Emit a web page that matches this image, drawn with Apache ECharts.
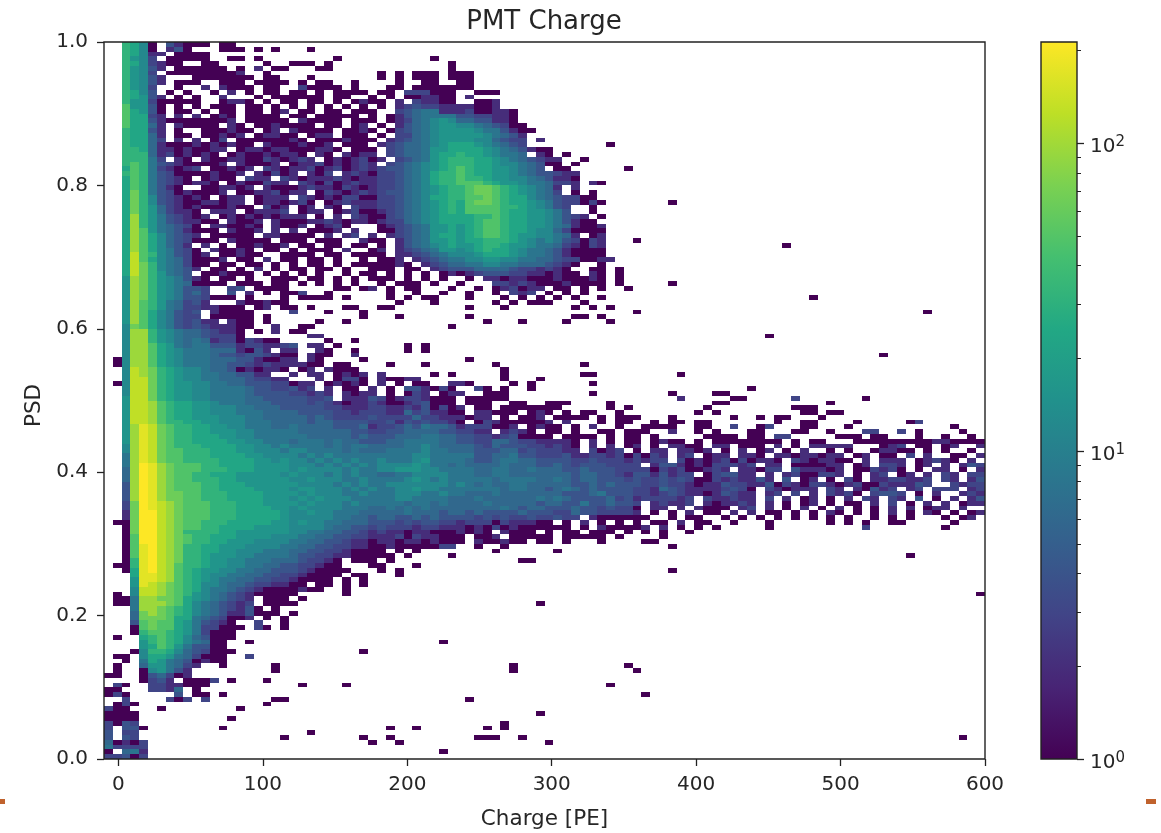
<!DOCTYPE html>
<html>
<head>
<meta charset="utf-8">
<title>PMT Charge</title>
<script src="https://cdn.jsdelivr.net/npm/echarts@6/dist/echarts.min.js"></script>
<style>
  html, body { margin: 0; padding: 0; background: #fff; }
  #chart { width: 1161px; height: 833px; }
</style>
</head>
<body>
<div id="chart"></div>
<script>
const xTicks = [0, 100, 200, 300, 400, 500, 600]
const yTicks = [0, 0.2, 0.4, 0.6, 0.8, 1.0]
const barMajorTicks = [1, 10, 100]
const barMinorTicks = [2, 3, 4, 5, 6, 7, 8, 9, 20, 30, 40, 50, 60, 70, 80, 90, 200]
const barMax = 213

// histogram bins
const xRange = [-10, 600]
const yRange = [0, 1]
const xBins = 100
const yBins = 150

// counts per hex digit in the rows below, '.' is an empty bin
const levelCounts = [1, 2, 3, 4, 6, 8, 12, 16, 24, 32, 48, 64, 96, 128, 170, 213]

const viridis = ['#440154', '#482475', '#414487', '#355f8d', '#2a788e', '#21918c', '#22a884', '#44bf70', '#7ad151', '#bddf26', '#fde725']

// one string per row, top row first, ten bins in each group
const rowLevels = [
  '..9860.310 00.00',
  '..9860.130 ...000.0.0 ...0',
  '..98611.00 00..',
  '..9762.000 00..00.0.. ......0... .......0',
  '..9862100. .00.....0. .000.0.... .........0',
  '..97631.00 0000.0.1.0 0...00.... .........0',
  '..9762.000 000001..0. .......... .0.0.000.0 00',
  '..97631... 0000000.00 ...0...... .0.0.000.0 00',
  '..97631.00 0..000.000 0.0.00..0. ...0..00.. 00',
  '..9762..0. .1.1000.00 ..20000.0. ..00.00000 00',
  '..9863.0.0 ..0.1.0.00 .00.0.0000 .00.222000 ..000',
  '..98731.0. 0..1...0.0 00000.00.. 0.0.001100 .1',
  '..97720000 0..0110.0. 00.00.0.01 00.1.21100 ..001',
  '..a7730.0. 0.000.00.0 .0.0.0.0.0 .0.1232211 11001',
  '..a8730.00 .0.00.00.0 1.00.00.00 0..2345511 1200110',
  '..a8821.1. 1.010.0000 .00.00000. 0.01345555 3322110',
  '..a8831000 00001.0000 0.10000.00 0.01245676 4433110',
  '..a8841.10 000.10.001 0000.00.01 .0.1345677 66543200',
  '..98831.0. .000100.01 .10000.001 0.02345677 776553100',
  '..98841.00 .00101.011 00.011.000 .0.2245677 77765431',
  '..98842.1. 1.02.00000 010.000100 0.12345677 77664322.1',
  '..98841000 1010100.10 001001.000 .123445678 88765432..',
  '..99841101 0011.01101 1000110.00 0.23445778 8887654310 0',
  '..99941201 010.010010 110.10.101 1.23445788 98876554.1 0.0',
  '..99952.10 .100110021 0121.01012 01.2345789 9988765432 11..0',
  '..9a953210 0001.10001 .011201012 1.23456789 9988766543 00.0',
  '..8a952101 2.00101.21 0112012012 1233456789 a988776543 .00',
  '..9a953200 001001.102 01.102.121 0223456899 a988776543 3211',
  '..8a953210 .0100.211. 2101112101 1223456899 a998776654 3110',
  '..8a953210 110.010021 1.21020121 1223456899 aaa9877655 4221.10',
  '..8a95310. .001101.10 0012110210 1223456789 9abba98765 41.1',
  '..8b953201 0001.00112 011.021012 1233456789 9abba98765 42.0.0',
  '..8b963210 10.011.011 1.21010220 0223456889 9aaba98865 432200',
  '..8b963210 011011.011 0120.01211 1223456789 8abba98876 5322020',
  '..8b974210 1000100.20 1.01.10.21 1223456789 8aaaa99876 532..0',
  '..8b974211 0.111.0111 2.011.0120 0123456789 8aaaa98877 653..0',
  '..8c975321 01.0101010 111.0.1.21 0023456788 8899a98877 65321.0',
  '..8c975321 100.1001.1 0001121011 0122456788 889aa98877 653100',
  '..8c975432 0.110010.1 001.0120.. .012345778 789aa98877 6541001',
  '..8ca75431 000.1001.1 .1.0001.1. .002345778 789aa98876 6420000',
  '..8ca86432 1.00000.11 0000.1.12. 1.12345788 789aa98776 6541.01',
  '..8ca86432 000.10000. 000.000..1 00.1345778 7889998765 6532021',
  '..8ca86431 .1.0.00100 1.00.00.00 .0.1345678 7789987765 5421021',
  '..8ca86532 0.10010.00 .0.000.1.. 01.1234577 6789887655 4310000',
  '..8da96532 01.00100.. 0000.00.00 00.1123456 6678887655 4310000',
  '..8da86542 0001.00.1. 00.00.0..0 .001.12345 5667766554 43220011',
  '..8db96542 00.00.00.0 .0.00.0.00 00010.1234 4556655444 3210..0',
  '..8db96543 1.00.0.1.0 .00.00.0.. 000.00.123 3344443221 210..00.0',
  '..8db97543 .001000.0. 0.0.0..0.0 0.0.0.0.01 0123332211 0100.10.0',
  '..7cb97653 10.00.0..0 00.00.0.0. 000.0.0.0. .0.1101100 0100010.0',
  '..7cb97654 0000.000.0 0.0.0.0.0. .0.000.0.. 0...221210 0010000.0',
  '..7cb97653 32..23.000 0.....00.0 1.0.00...0 ..0.012011 .00.0.0..0',
  '..7cb97653 42..3.1.0. 002..0.... ..0..0..0. .0..0.212. 0.0.0',
  '..7cb97653 32000.0... 0.0000.0.. ..0.0.00.. .0...0.0.0 .0.0..0',
  '..7ca97542 31...10010 0......... ...0...0.. ....0.0.00 0...0',
  '..7ca97542 211000.01. 00.0...00. .00....... .0...0.... ...0.0.0',
  '..7ca86532 3.10000... .2...0...0',
  '..7ca86532 2.00000.0. .........0 ...0...... .0........ ...00.0',
  '..7ca86532 311.100.0. ....0..0.. .......... ...0...0.. ..0....0',
  '..6ba86532 3211100..1 ..00...... .........0',
  '..6cc97654 432110.0.1 .00.......',
  '..6cc97654 432220.... ...11.....',
  '..6cc97654 5412202100 .....0..0.',
  '..6cca8754 5533312211 23.11.0... ....0.0...',
  '..6cca8765 554441031. 11..10..0. ....0.0...',
  '..6cca8765 5543323321 00.100..1.',
  '.06cca8765 5544433100 11.10....0 .......... .0',
  '.06cca8765 5544332121 11100.00.. ..0...0... ....0..... ....0',
  '..6dcb9876 6544301011 0.01.1000. .......... .....0',
  '..6dcb9876 655443311. .1.11.0101 .1.....0.0 .....0.... ....00.... .....0',
  '..6ddb9876 6554443221 1...1.0220 .10011.... .....0...0',
  '.06ddb9877 6655443332 2011.01010 .1.0.00..1 10....0.0. .....0',
  '..6ddb9877 6655554332 2312.1.00. 1.0.331020 ..20.0..0. .......... .......... ...0',
  '..6ddb9877 6655554333 322121.101 1.0.021.01 1..000.... .....0.... ....0....0 0',
  '..7ddb9877 6655554433 333223.111 3201221000 .00000.... .......... .....1.... .00.....2. ......0',
  '..7ddca988 7765554443 3332321011 2100123000 .000..00.. 000....0.. .........0 0......... ..0',
  '..7ddca988 7766655444 3333322111 2211213020 1.00.00000 00.....0.0 ........0. ........00 0',
  '..7ddca988 7766655544 4433332212 2211423110 0.11000.01 0.0.00..0. .......0.0 .........0 0.00',
  '..7ddca988 7776665544 4443432222 3222242211 1011.0.001 .0000.0.00 0...0..... .0..0.00.. .0',
  '..7ddca998 8776665554 4443443333 2231323221 0.02100000 1.1...0.00 ..0.00.00. ......0..0 0....0.... .02',
  '..7cedba99 8877665554 4544443334 1223435443 1222001.01 00.0.1..0. .0000..00. .2..02...0 0...0..... ......0',
  '..7cedba99 8877766555 5544444433 2233444433 2211.1210. 00.0..00.0 00..1..0.0 ...00...00 ..0...22.. 2.0....0..',
  '..7cedba99 8887766555 5554444434 3334445544 3322123000 0.0000.0.0 0.0.....00 00.00.22.. ...000.00. ..0..0..0.',
  '..7cedba99 8888776655 5455545443 3344555544 3322443221 1110.1.0.0 0.0100.0.0 0000000.0. 00...00000 0000110000',
  '..6cedba99 9888877665 6555545455 4444556544 4432433322 1210.1.1.0 1.0.1100.1 1.000.1.0. 11111...01 2.00.01..1',
  '..6cedbaa9 9988877666 5665555454 4455556554 4433344232 2211.2012. 0.11.1101. 0.1.01.0.1 ..0.0..011 00.0.0..0.',
  '..5cedbaa9 9988887766 6656565555 5555566555 5533445332 2231122120 2021.12.01 1.110.1101 1011.01.00 .2.1..00.1',
  '..5cedbaa9 9998888776 7665656565 5655567555 5433455443 3332232221 2122.20101 2020110.21 01100.1.11 1.01210.1.',
  '..5cfecbaa a998888777 7666565656 5666676554 5444454443 3432333222 2.13310102 2212.11.00 0011.01.22 1.01.1.132',
  '..4cfecbaa a999888777 7676666565 5667776655 5544554454 4433433322 2202120012 1.11022.31 1101.00212 0.0.11.0.1',
  '..4cfecbaa 9988877777 6766656565 5445566665 5544554444 4443443321 3313122.02 3311.1.120 0221.0.12. 01.1.21.22',
  '..4cfecbaa 9998877777 7667666556 5555676565 5555455554 4543443332 3223232002 121131.3.0 1.0.20.112 2112.21.13',
  '..3cfecbaa a998887777 7766665656 5566666665 6545445544 4443343433 3223221011 3221130210 2210120021 1132..2122',
  '..3cfecbaa a998888777 7677666565 6556676655 5555545544 3454343333 2214321111 2320.21011 1.21.10312 .12.222.12',
  '..3cfecbba a999888877 7767666556 5556665565 5444544444 4433345333 2212321101 3211.12.2. 1.2120.233 2.0.1..121',
  '..3cfecbba a999888877 7676766655 5556655554 4454444445 4543333423 1222212.21 1211.2.1.0 1.0.1.21.2 1.3.0.1.13',
  '..2bfedcba aa99988877 7767666565 5555455454 4445444443 4433533433 2.12112.10 1121.1.0.0 1.0.00.1.2 .0.1.1.011',
  '..2bfedcba aa99988887 7676666555 4454545444 4444454344 3334332322 0.11.1.100 0.12.1.0.1 .0.1.0.0.1 .1.011.1..',
  '..1bffdcba aa99988888 7667665554 4444544434 4343333433 3224332222 1.0.0.1.00 .1.1.00.0. 0.10.0.0.1 .0.10.0.01',
  '..1bffdcba aa99988888 7666665544 3443343433 3323232232 2322.10000 00..0.00.. 0.0.0.0.0. 0.0.0..0.0 .0...0.01',
  '.00bffdcba a999888887 7676655444 3332323322 1222021110 0.0.1.0.0. 0.00.1.00. .0...0.... ..0.0.0..0 0.....0.',
  '..0bffdcba a998888777 7666654433 2322212211 1010201000 000.0.1000 01.1.0.0.0 .....0.... ......2... .....0....',
  '..0bffdcb9 9998877777 7665544332 1211011000 1010.1000. 0.00.000.0 .0.0..0.',
  '..0affdcba 9988877776 6655443322 1112021100 0.001.0000 0.00000.0. ...0',
  '..0affdcba 9988777666 6554433211 0110110100 0.100100.0 0.0...0.. ..0',
  '..0aefdcb9 9887776666 5544332211 0010000022 ..0..0.... .......... ....0',
  '..0aefdcb9 9887766655 5443322100 00.0.0.... ....0..... .0',
  '..0aefdcb9 9877766555 5433221100 000.0....0',
  '..09efdcb9 9877665554 4432210.00 0.0....... .......00',
  '.009efdca9 9877665544 3322100... 00...0',
  '..08efdca9 8776655443 33210000.. .0.0',
  '...8eedca9 8766554433 2210000.00 ...0',
  '...7eedca9 8765544332 210000.0.0',
  '...7edcba9 8665443221 100.00.0.0',
  '...6ddcba9 8655432100 00100..0..',
  '.0.6ddcba9 7654321000 00.....0..',
  '.005ccbba8 7654321.00 0.0.',
  '.005cccba8 6543212.00 00.',
  '...5ccba98 65432130.0',
  '...4bcba98 6543113000 .0',
  '...4bbba88 5432001.0. 0',
  '...3abaa87 53210..2.. 0',
  '...0abaa87 522000.20. 0',
  '...09aa987 52000',
  '.0..89a986 43000',
  '....79a986 5400..0',
  '....78a975 3300',
  '...0699864 32000..... .........0',
  '.00.688754 2000..2',
  '..0.587543 0100',
  '.0..477542 1..0.....0',
  '.0..067531 .........0',
  '00..034201',
  '....0231.0 002.0...0.',
  '.20..22110 00........ ..0....0',
  '00...2214. 0',
  '020.....3. 00.0',
  '..2....202 .2.......0 0',
  '.020...... ........0.',
  '200...0... .....0',
  '0000',
  '0000...... ....0',
  '2032',
  '2.330..... ...0',
  '3.22',
  '3.32',
  '40102',
  '52222',
  '0.451',
  '22302'
]

// isolated single-count bins as [row, column]
const strayCells = [
  [21, 57], [26, 59], [33, 64], [50, 64], [41, 60], [42, 77], [53, 80], [56, 93], [56, 60], [61, 75], [65, 88],
  [107, 91], [110, 64], [115, 99], [145, 97], [117, 49], [125, 38], [127, 29], [130, 46], [131, 46], [130, 59],
  [131, 60], [134, 57], [136, 61], [137, 41], [140, 49], [142, 45], [143, 45], [143, 43], [145, 42], [145, 43],
  [145, 44], [145, 47], [146, 50], [148, 38], [143, 32], [145, 32], [143, 35], [146, 33], [146, 30], [145, 29],
  [145, 20], [144, 23], [104, 50], [104, 56], [102, 59], [102, 63], [104, 62], [105, 64], [106, 44], [106, 51]
]

function buildCells() {
  const cells = []
  const dx = (xRange[1] - xRange[0]) / xBins
  const dy = (yRange[1] - yRange[0]) / yBins
  const seen = {}
  rowLevels.forEach((line, row) => {
    const chars = line.replace(/ /g, '')
    for (let col = 0; col < chars.length && col < xBins; col++) {
      if (chars[col] === '.') continue
      const count = levelCounts[parseInt(chars[col], 16)]
      seen[row + '_' + col] = true
      cells.push([xRange[0] + col * dx, yRange[1] - (row + 1) * dy, count, Math.log10(count)])
    }
  })
  strayCells.forEach(item => {
    if (seen[item[0] + '_' + item[1]]) return
    cells.push([xRange[0] + item[1] * dx, yRange[1] - (item[0] + 1) * dy, 1, 0])
  })
  return cells
}

const chart = echarts.init(document.getElementById('chart'))
const textColor = '#262626'
const fontFamily = '"DejaVu Sans"'
const cellW = (xRange[1] - xRange[0]) / xBins
const cellH = (yRange[1] - yRange[0]) / yBins

const options = {
  backgroundColor: '#fff',
  animation: false,
  title: {
    text: 'PMT Charge',
    left: 539,
    top: 4,
    textAlign: 'center',
    textStyle: { color: textColor, fontFamily: fontFamily, fontSize: 26, fontWeight: 'normal' }
  },
  grid: [
    { left: 104, top: 42, width: 881, height: 717, outerBoundsMode: 'none', show: true, borderColor: '#222', borderWidth: 1.4, backgroundColor: 'transparent', z: 5 },
    { left: 1041, top: 42, width: 36, height: 717, outerBoundsMode: 'none', show: true, borderColor: '#222', borderWidth: 1.4, backgroundColor: 'transparent', z: 5 }
  ],
  xAxis: [{
    type: 'value',
    gridIndex: 0,
    min: xRange[0],
    max: xRange[1],
    name: 'Charge [PE]',
    nameLocation: 'middle',
    nameGap: 49,
    nameTextStyle: { color: textColor, fontFamily: fontFamily, fontSize: 21.5 },
    splitLine: { show: false },
    axisLine: { show: false, onZero: false },
    axisTick: { customValues: xTicks, length: 7, lineStyle: { color: '#222', width: 1.3 } },
    axisLabel: { customValues: xTicks, color: textColor, fontFamily: fontFamily, fontSize: 20, margin: 16 }
  }, {
    type: 'value',
    gridIndex: 1,
    min: 0,
    max: 1,
    show: false
  }],
  yAxis: [{
    type: 'value',
    gridIndex: 0,
    min: yRange[0],
    max: yRange[1],
    name: 'PSD',
    nameLocation: 'middle',
    nameGap: 59,
    nameTextStyle: { color: textColor, fontFamily: fontFamily, fontSize: 21.5, padding: [0, 10, 0, 0] },
    splitLine: { show: false },
    axisLine: { show: false, onZero: false },
    axisTick: { customValues: yTicks, length: 7, lineStyle: { color: '#222', width: 1.3 } },
    axisLabel: {
      customValues: yTicks,
      color: textColor,
      fontFamily: fontFamily,
      fontSize: 20,
      margin: 16,
      padding: [3, 0, 0, 0],
      formatter: v => v.toFixed(1)
    }
  }, {
    type: 'log',
    gridIndex: 1,
    logBase: 10,
    min: 1,
    max: barMax,
    position: 'right',
    splitLine: { show: false },
    axisLine: { show: false, onZero: false },
    axisTick: { customValues: barMajorTicks, length: 7, lineStyle: { color: '#222', width: 1.3 } },
    axisLabel: {
      customValues: barMajorTicks,
      margin: 13,
      padding: [8, 0, 0, 0],
      formatter: v => '{b|10}{s|' + Math.round(Math.log10(v)) + '}',
      rich: {
        b: { color: textColor, fontFamily: fontFamily, fontSize: 20 },
        s: { color: textColor, fontFamily: fontFamily, fontSize: 15, padding: [0, 0, 10, 0] }
      }
    }
  }, {
    type: 'log',
    gridIndex: 1,
    logBase: 10,
    min: 1,
    max: barMax,
    position: 'right',
    splitLine: { show: false },
    axisLine: { show: false, onZero: false },
    axisTick: { customValues: barMinorTicks, length: 4, lineStyle: { color: '#222', width: 1 } },
    axisLabel: { show: false }
  }],
  visualMap: {
    show: false,
    seriesIndex: 0,
    dimension: 3,
    min: 0,
    max: Math.log10(barMax),
    inRange: { color: viridis }
  },
  series: [{
    type: 'custom',
    xAxisIndex: 0,
    yAxisIndex: 0,
    clip: true,
    encode: { x: 0, y: 1 },
    data: buildCells(),
    progressive: 0,
    silent: true,
    renderItem: (params, api) => {
      const a = api.coord([api.value(0), api.value(1) + cellH])
      const b = api.coord([api.value(0) + cellW, api.value(1)])
      const x0 = Math.round(a[0])
      const y0 = Math.round(a[1])
      return {
        type: 'rect',
        shape: { x: x0, y: y0, width: Math.round(b[0]) - x0, height: Math.round(b[1]) - y0 },
        style: { fill: api.visual('color') }
      }
    }
  }, {
    type: 'custom',
    xAxisIndex: 1,
    yAxisIndex: 1,
    silent: true,
    data: [[0, 1, 1, barMax]],
    encode: { x: 0, y: 1 },
    renderItem: (params, api) => {
      const a = api.coord([api.value(0), api.value(3)])
      const b = api.coord([api.value(2), api.value(1)])
      return {
        type: 'rect',
        shape: { x: a[0], y: a[1], width: b[0] - a[0], height: b[1] - a[1] },
        style: {
          fill: new echarts.graphic.LinearGradient(0, 1, 0, 0, viridis.map((c, i) => ({ offset: i / (viridis.length - 1), color: c })))
        }
      }
    }
  }],
  graphic: [
    { type: 'rect', left: 0, top: 799, shape: { width: 5, height: 5 }, style: { fill: '#c0622d' } },
    { type: 'rect', left: 1146, top: 799, shape: { width: 10, height: 5 }, style: { fill: '#c0622d' } }
  ]
}

chart.setOption(options)
</script>
</body>
</html>
